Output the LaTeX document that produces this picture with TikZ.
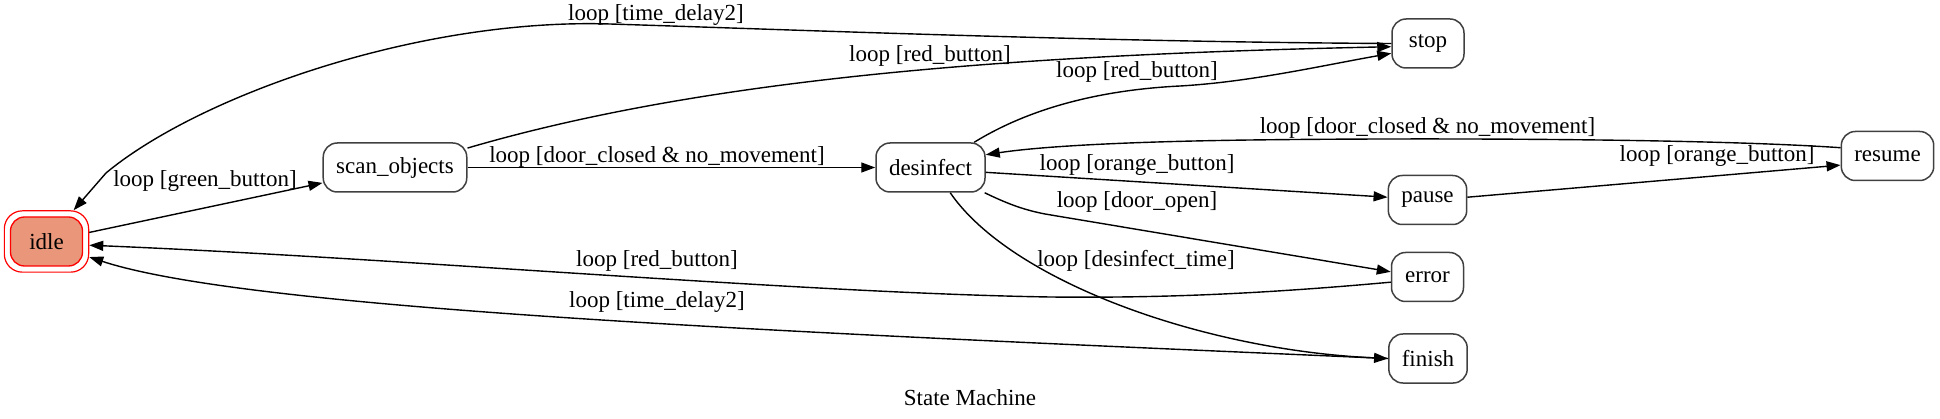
\documentclass[tikz,border=0pt]{standalone}
\usepackage{fontspec}
\setmainfont{Liberation Serif}
\usetikzlibrary{arrows.meta,fit}
\definecolor{salmon}{HTML}{E9967A}
\definecolor{boxline}{HTML}{404040}
\begin{document}
\begin{tikzpicture}[x=1pt,y=-1pt,
    font=\fontsize{23}{27}\selectfont,
    stbox/.style={draw=boxline,line width=1.5pt,rounded corners=14pt,minimum width=72pt,minimum height=49pt,inner xsep=13pt},
    stfirst/.style={stbox,draw=red,fill=salmon,line width=1.3pt},
    trans/.style={-{Triangle[length=14pt,width=10pt]},line width=1.4pt},
    lbl/.style={inner sep=0pt}]
    \useasboundingbox (0,0) rectangle (1940,419);
    \node[stfirst] (idle) at (46.5,241.5) {idle};
    \node[draw=red,line width=1.2pt,rounded corners=18pt,inner sep=5.5pt,fit=(idle)] (idlering) {};
    \node[stbox] (scan) at (395,167.5) {scan\_objects};
    \node[stbox] (desinfect) at (930.5,167.5) {desinfect};
    \node[stbox] (stop) at (1428,43.5) {stop};
    \node[stbox] (pause) at (1427.5,200) {pause};
    \node[stbox] (error) at (1427.5,277) {error};
    \node[stbox] (finish) at (1428,358.5) {finish};
    \node[stbox] (resume) at (1887.5,156) {resume};
    \draw[trans] (idlering) -- (scan);
    \draw[trans] (stop.west) .. controls (1100,42) and (800,30) .. (610,24) .. controls (420,18) and (200,95) .. (106,173) -- (idlering);
    \draw[trans] (scan.15) .. controls (700,80) and (1000,55) .. (stop.185);
    \draw[trans] (scan) -- (desinfect);
    \draw[trans] (desinfect.30) .. controls (1030,108) and (1100,90) .. (1180,86) .. controls (1250,82) and (1320,66) .. (stop.195);
    \draw[trans] (resume.170) .. controls (1700,138) and (1400,138) .. (1250,140) .. controls (1100,142) and (1030,148) .. (desinfect.13);
    \draw[trans] (desinfect.-5) -- (pause.176);
    \draw[trans] (desinfect.-25) .. controls (1010,205) and (1025,210) .. (1045,214) -- (error.172);
    \draw[trans] (desinfect.-52) .. controls (1010,280) and (1200,350) .. (finish.west);
    \draw[trans] (error.188) .. controls (1250,295) and (1150,298) .. (1050,297) .. controls (800,293) and (400,258) .. (idlering.-5);
    \draw[trans] (finish.west) .. controls (800,333) and (250,310) .. (idlering.-20);
    \draw[trans] (pause.4) -- (resume.191);
    \node[lbl] (lgreen) at (205,181) {loop [green\_button]};
    \node[lbl] (ldelaytop) at (656,15) {loop [time\_delay2]};
    \node[lbl] (lredscan) at (930,56) {loop [red\_button]};
    \node[lbl] (ldoorscan) at (657,157) {loop [door\_closed \& no\_movement]};
    \node[lbl] (lreddes) at (1137,72) {loop [red\_button]};
    \node[lbl] (ldoorres) at (1427.5,128) {loop [door\_closed \& no\_movement]};
    \node[lbl] (lorangedes) at (1137,165) {loop [orange\_button]};
    \node[lbl] (lopen) at (1137,202) {loop [door\_open]};
    \node[lbl] (ltime) at (1136,261) {loop [desinfect\_time]};
    \node[lbl] (lrederr) at (657,261) {loop [red\_button]};
    \node[lbl] (ldelayfin) at (657,302) {loop [time\_delay2]};
    \node[lbl] (lorangepause) at (1717,156) {loop [orange\_button]};
    \node (title) at (970,398) {State Machine};
\end{tikzpicture}
\end{document}
